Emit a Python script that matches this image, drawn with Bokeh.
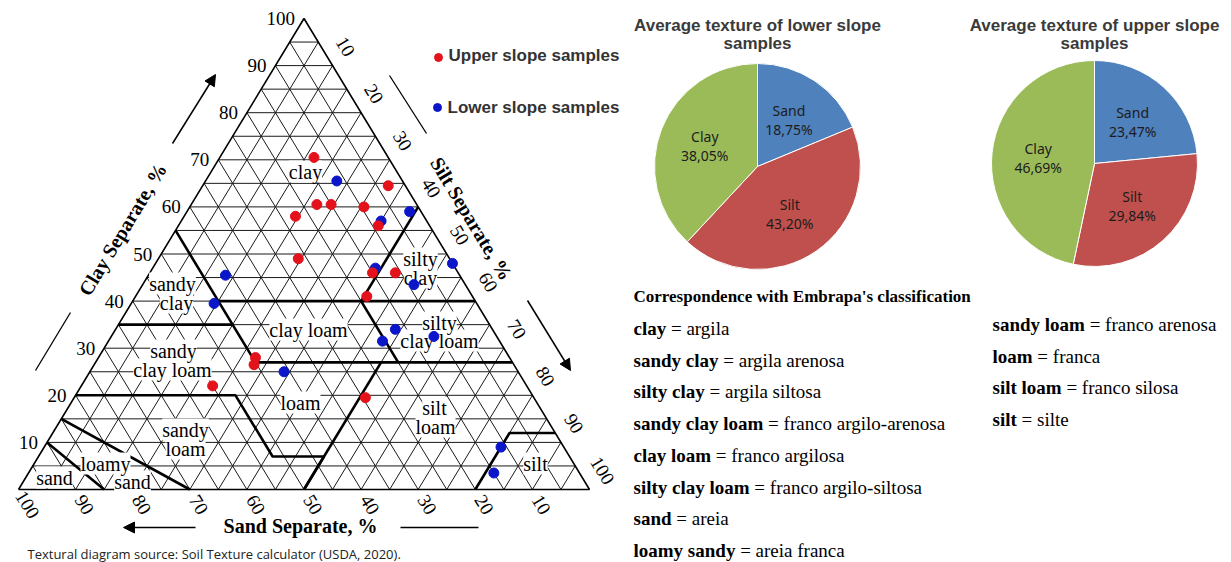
import math
from bokeh.plotting import figure
from bokeh.models import Range1d, Arrow, NormalHead
from bokeh.core.properties import value
from bokeh.embed import file_html
from bokeh.resources import INLINE

# ---------------- data ----------------
# Upper slope samples (sand, silt, clay %)
upper_sand = [13, 17.5, 15, 22.5, 3, 9.5, 9, 26.5, 15, 11, 18.5, 44.5, 45.5, 55, 29.5]
upper_silt = [16.5, 22, 24.5, 19.5, 32.5, 30.5, 35, 24.5, 39, 43, 40.5, 27.5, 28, 23, 51]
upper_clay = [70.5, 60.5, 60.5, 58, 64.5, 60, 56, 49, 46, 46, 41, 28, 26.5, 22, 19.5]

# Lower slope samples (sand, silt, clay %)
lower_sand = [11.5, 2, 8, 0, 41, 46, 14, 9, 17, 11, 20.5, 41, 11, 15]
lower_silt = [23, 39, 35, 52, 13.5, 14.5, 39, 47.5, 49, 56.5, 48, 34, 80, 81.5]
lower_clay = [65.5, 59, 57, 48, 45.5, 39.5, 47, 43.5, 34, 32.5, 31.5, 25, 9, 3.5]

# Pie charts
pie_parts = ["Sand", "Silt", "Clay"]
lower_avg = [18.75, 43.20, 38.05]
upper_avg = [23.47, 29.84, 46.69]

# Tick labels
tick_values = [10, 20, 30, 40, 50, 60, 70, 80, 90, 100]

# USDA texture class boundaries (sand, silt, clay)
boundaries = [
    [(45, 0, 55), (45, 15, 40), (45, 28, 27)],
    [(65, 0, 35), (45, 20, 35)],
    [(45, 15, 40), (20, 40, 40), (0, 60, 40)],
    [(0, 40, 60), (20, 40, 40)],
    [(20, 40, 40), (20, 53, 27)],
    [(45, 28, 27), (0, 73, 27)],
    [(80, 0, 20), (52, 28, 20), (52, 41, 7), (43, 50, 7), (50, 50, 0)],
    [(23, 50, 27), (50, 50, 0)],
    [(20, 80, 0), (8, 80, 12), (0, 88, 12)],
    [(85, 0, 15), (70, 30, 0)],
    [(90, 0, 10), (85, 15, 0)],
]

class_labels = [
    ("clay", 305, 171), ("silty", 420, 258), ("clay", 420, 277),
    ("sandy", 172, 283), ("clay", 176, 302), ("clay loam", 308, 329),
    ("silty", 439, 322), ("clay loam", 439, 340), ("sandy", 173, 350),
    ("clay loam", 172, 369), ("loam", 300, 402), ("silt", 434, 407),
    ("loam", 435, 426), ("sandy", 185, 429), ("loam", 185, 448),
    ("loamy", 105, 463), ("sand", 54, 477), ("sand", 132, 481), ("silt", 535, 463),
]

corr_left = [("clay", "argila"), ("sandy clay", "argila arenosa"),
             ("silty clay", "argila siltosa"), ("sandy clay loam", "franco argilo-arenosa"),
             ("clay loam", "franco argilosa"), ("silty clay loam", "franco argilo-siltosa"),
             ("sand", "areia"), ("loamy sandy", "areia franca")]
corr_right = [("sandy loam", "franco arenosa"), ("loam", "franca"),
              ("silt loam", "franco silosa"), ("silt", "silte")]

# ---------------- layout ----------------
PW, PH = 1231, 562
def Y(yref):
    return PH - yref

TL, TR, TB, TT = 18, 589, 489, 18
TW, TH = TR - TL, TB - TT

def tern(sand, silt, clay):
    return TL + TW * (silt + clay / 2) / 100, Y(TB) + TH * clay / 100

p = figure(width=PW, height=PH, x_range=Range1d(0, PW), y_range=Range1d(0, PH),
           output_backend="svg", toolbar_location=None, min_border=0,
           x_axis_location=None, y_axis_location=None)
p.grid.visible = False
p.outline_line_color = None
p.background_fill_color = "white"
p.border_fill_color = "white"

def txt(x, y, s, size, font="Liberation Serif", style="normal", align="center",
        baseline="middle", angle=0.0, color="black", bg=None, alpha=1.0):
    kw = {}
    if bg:
        kw["background_fill_color"] = bg
    p.text(x=[x], y=[y], text=[s], text_font=value(font), text_font_size=f"{size}px",
           text_font_style=style, text_align=align, text_baseline=baseline,
           angle=angle, text_color=color, text_alpha=alpha, **kw)

# grid
gxs, gys = [], []
for v in range(5, 100, 5):
    for a, b in [((100 - v, 0, v), (0, 100 - v, v)),
                 ((v, 100 - v, 0), (v, 0, 100 - v)),
                 ((100 - v, v, 0), (0, v, 100 - v))]:
        x1, y1 = tern(*a)
        x2, y2 = tern(*b)
        gxs.append([x1, x2]); gys.append([y1, y2])
p.multi_line(gxs, gys, line_color="#1a1a1a", line_width=1.0)

# outline
ox, oy = zip(*[tern(100, 0, 0), tern(0, 100, 0), tern(0, 0, 100), tern(100, 0, 0)])
p.line(list(ox), list(oy), line_color="black", line_width=1.6)

# class boundaries
bxs, bys = [], []
for poly in boundaries:
    pts = [tern(*t) for t in poly]
    bxs.append([q[0] for q in pts]); bys.append([q[1] for q in pts])
p.multi_line(bxs, bys, line_color="black", line_width=2.6)

# class labels: white backgrounds first, then the texts on top
for s, xr, yr in class_labels:
    txt(xr, Y(yr), s, 20, bg="white", alpha=0.0)
for s, xr, yr in class_labels:
    txt(xr, Y(yr), s, 20)

ANG = math.atan2(TH, TW / 2)  # edge slope
# clay ticks (left edge)
for v in tick_values:
    x, y = tern(100 - v, 0, v)
    txt(x - 9, y, str(v), 19, align="right")
# silt ticks (right edge)
for v in tick_values:
    x, y = tern(0, v, 100 - v)
    txt(x + 13, y + 19, str(v), 19, angle=-ANG)
# sand ticks (base)
for v in tick_values:
    x, y = tern(v, 100 - v, 0)
    txt(x + 9, y - 15, str(v), 19, angle=-ANG)

# axis titles
txt(122, Y(229), "Clay Separate, %", 20, style="bold", angle=ANG)
txt(471, Y(218), "Silt Separate, %", 20, style="bold", angle=-ANG)
txt(300, Y(525), "Sand Separate, %", 20, style="bold")

# arrows and lines
head = dict(size=11, fill_color="black", line_color="black")
p.add_layout(Arrow(end=NormalHead(**head), x_start=172, y_start=Y(143), x_end=215, y_end=Y(74), line_width=1.5))
p.add_layout(Arrow(end=NormalHead(**head), x_start=527, y_start=Y(300), x_end=570, y_end=Y(370), line_width=1.5))
p.add_layout(Arrow(end=NormalHead(**head), x_start=195, y_start=Y(527), x_end=123, y_end=Y(527), line_width=1.5))
p.line([35, 70], [Y(370), Y(312)], line_color="black", line_width=1.3)
p.line([389, 426], [Y(75), Y(133)], line_color="black", line_width=1.3)
p.line([400, 478], [Y(527), Y(527)], line_color="black", line_width=1.3)

# sample points
RED, BLUE = "#e3121b", "#0a16c8"
lx, ly = zip(*[tern(a, b, c) for a, b, c in zip(lower_sand, lower_silt, lower_clay)])
ux, uy = zip(*[tern(a, b, c) for a, b, c in zip(upper_sand, upper_silt, upper_clay)])
p.scatter(list(lx), list(ly), size=10, fill_color=BLUE, line_color=BLUE)
p.scatter(list(ux), list(uy), size=10, fill_color=RED, line_color=RED)

# legend
p.scatter([438], [Y(57)], size=8, fill_color=RED, line_color=RED)
p.scatter([437], [Y(107)], size=8, fill_color=BLUE, line_color=BLUE)
txt(448, Y(55), "Upper slope samples", 17, font="Liberation Sans", style="bold", align="left", color="#333333")
txt(447, Y(107), "Lower slope samples", 17, font="Liberation Sans", style="bold", align="left", color="#333333")

# source note
txt(27, Y(553), "Textural diagram source: Soil Texture calculator (USDA, 2020).", 13,
    font="Open Sans", align="left", color="#222222")

# pies
pie_colors = ["#4f81bd", "#c0504d", "#9bbb59"]
def pie(cx, cyr, pcts, title):
    cy = Y(cyr)
    r = 103
    start = math.pi / 2
    for name, pct, col in zip(pie_parts, pcts, pie_colors):
        end = start - 2 * math.pi * pct / 100
        p.wedge(x=cx, y=cy, radius=r, start_angle=end, end_angle=start, direction="anticlock",
                fill_color=col, line_color="white", line_width=1)
        mid = (start + end) / 2
        lxp = cx + 0.55 * r * math.cos(mid)
        lyp = cy + 0.55 * r * math.sin(mid)
        txt(lxp, lyp + 9, name, 14, font="Noto Sans", color="#1c1c1c")
        txt(lxp, lyp - 10, f"{pct:.2f}".replace(".", ",") + "%", 14, font="Noto Sans", color="#1c1c1c")
        start = end
    txt(cx, Y(25), title, 17, font="Liberation Sans", style="bold", color="#3a3a3a")
    txt(cx, Y(43), "samples", 17, font="Liberation Sans", style="bold", color="#3a3a3a")

pie(757, 166, lower_avg, "Average texture of lower slope")
pie(1094, 163, upper_avg, "Average texture of upper slope")

# correspondence table
BOLD_W = {"a": 500, "b": 556, "c": 444, "d": 556, "e": 444, "f": 333, "g": 500, "h": 556,
          "i": 278, "k": 556, "l": 278, "m": 833, "n": 556, "o": 500, "p": 556, "r": 444,
          "s": 389, "t": 333, "u": 556, "y": 500, " ": 250}
def bold_width(s, size):
    return sum(BOLD_W.get(ch, 500) for ch in s) * size / 1000

txt(633, Y(296), "Correspondence with Embrapa's classification", 17, style="bold", align="left")
FS = 19
def corr(x0, rows, y0, dy):
    for i, (term, pt) in enumerate(rows):
        y = Y(y0 + i * dy)
        txt(x0, y, term, FS, style="bold", align="left")
        txt(x0 + bold_width(term, FS) + 0.25 * FS, y, "= " + pt, FS, align="left")

corr(633, corr_left, 328, 31.7)
corr(992, corr_right, 324, 31.5)

open("out.html", "w").write(file_html(p, INLINE))
